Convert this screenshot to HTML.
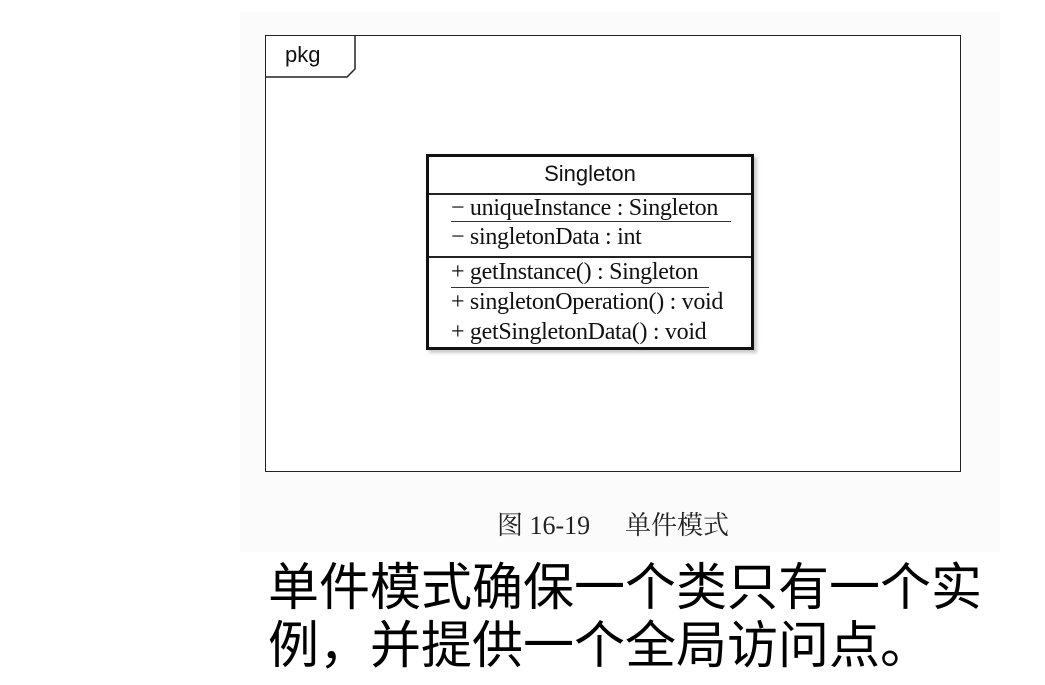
<!DOCTYPE html>
<html><head><meta charset="utf-8"><style>
body{margin:0;width:1045px;height:685px;background:#fff;position:relative;overflow:hidden}
.a{position:absolute;white-space:nowrap}
.s{font-family:"Liberation Serif","Noto Serif CJK SC",serif;font-size:24px;color:#111;line-height:26px;letter-spacing:-0.3px}
.c{font-family:'Liberation Serif','Noto Serif CJK SC',serif;font-size:26px;color:#222;top:505px}
</style></head><body>
<div class="a" style="left:240px;top:12px;width:760px;height:540px;background:#fbfbfb"></div>
<div class="a" style="left:265px;top:35px;width:694px;height:435px;border:1.5px solid #222;background:#fff"></div>
<svg class="a" style="left:265px;top:35px" width="100" height="50">
<polyline points="0,42 82,42 90,34 90,0" fill="none" stroke="#222" stroke-width="1.5"/></svg>
<div class="a" style="left:285px;top:42px;font-family:'Liberation Sans',sans-serif;font-size:22px;color:#111">pkg</div>
<div class="a" style="left:426px;top:154px;width:322px;height:190px;border:3px solid #111;background:#fff;box-shadow:3px 3px 3px #ccc"></div>
<div class="a" style="left:429px;top:193px;width:322px;height:1.5px;background:#222"></div>
<div class="a" style="left:429px;top:256px;width:322px;height:1.5px;background:#222"></div>
<div class="a" style="left:451px;top:221px;width:280px;height:1px;background:#333"></div>
<div class="a" style="left:451px;top:287px;width:258px;height:1px;background:#333"></div>
<div class="a" style="left:426px;top:161px;width:328px;text-align:center;font-family:'Liberation Sans',sans-serif;font-size:22px;color:#111">Singleton</div>
<div class="a s" style="left:451px;top:195px">− uniqueInstance : Singleton</div>
<div class="a s" style="left:451px;top:224px">− singletonData : int</div>
<div class="a s" style="left:451px;top:259px">+ getInstance() : Singleton</div>
<div class="a s" style="left:451px;top:289px">+ singletonOperation() : void</div>
<div class="a s" style="left:451px;top:319px">+ getSingletonData() : void</div>
<div class="a c" style="left:497px">图 16-19</div>
<div class="a c" style="left:625px">单件模式</div>
<div class="a" style="left:268px;top:559px;font-family:'Liberation Sans','Noto Sans CJK SC',sans-serif;font-size:51px;line-height:58px;color:#000">单件模式确保一个类只有一个实<br>例，并提供一个全局访问点。</div>
</body></html>
